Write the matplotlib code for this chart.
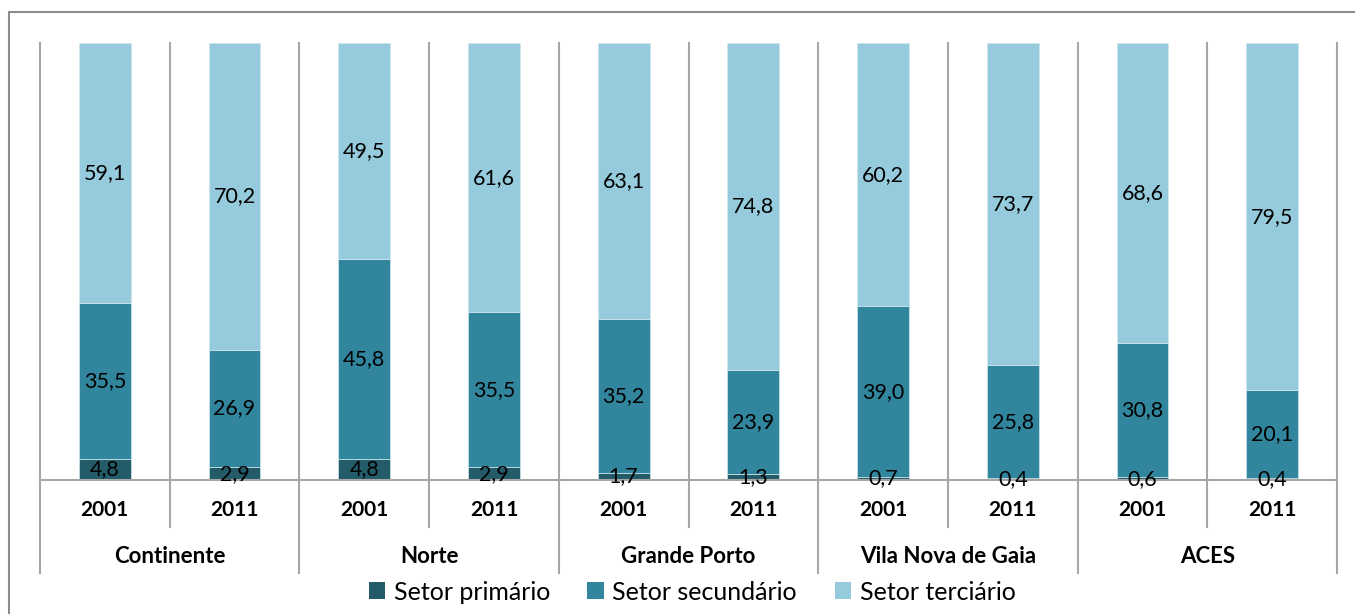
import matplotlib
matplotlib.use("Agg")
import matplotlib.pyplot as plt
from matplotlib.patches import Rectangle, Patch
import numpy as np

groups = ["Continente", "Norte", "Grande Porto", "Vila Nova de Gaia", "ACES"]
years = ["2001", "2011"]
primario = [4.8, 2.9, 4.8, 2.9, 1.7, 1.3, 0.7, 0.4, 0.6, 0.4]
secundario = [35.5, 26.9, 45.8, 35.5, 35.2, 23.9, 39.0, 25.8, 30.8, 20.1]
terciario = [59.1, 70.2, 49.5, 61.6, 63.1, 74.8, 60.2, 73.7, 68.6, 79.5]
series_names = ["Setor primário", "Setor secundário", "Setor terciário"]
colors = ["#235b69", "#31859c", "#95cbdc"]

plt.rcParams['font.family'] = ['Lato', 'DejaVu Sans']

W, H = 1355, 614
fig = plt.figure(figsize=(W / 100, H / 100), dpi=100)
ax = fig.add_axes([40 / W, 1 - 480 / H, (1337 - 40) / W, (480 - 43) / H])

vals = np.array([primario, secundario, terciario])
totals = vals.sum(axis=0)
pct = vals / totals * 100
x = np.arange(len(primario))
bottom = np.zeros(len(x))
for i in range(3):
    ax.bar(x, pct[i], 0.4, bottom=bottom, color=colors[i], edgecolor='#d0e6ee',
           linewidth=0.5, zorder=3)
    for xi, v, b, p in zip(x, vals[i], bottom, pct[i]):
        yc = b + p / 2
        ax.text(xi, yc, f"{v:.1f}".replace(".", ","), ha='center', va='center',
                fontsize=15.5, color='#000000', zorder=5)
    bottom += pct[i]

ax.set_xlim(-0.5, len(x) - 0.5)
ax.set_ylim(0, 100)
ax.set_xticks([])
ax.set_yticks([])
for s in ax.spines.values():
    s.set_visible(False)

grid_c = '#a6a6a6'
ax.axhline(0, color=grid_c, lw=1.5, zorder=4, clip_on=False)
trans = ax.get_xaxis_transform()
for k in range(len(x) + 1):
    xb = k - 0.5
    ax.plot([xb, xb], [0, 1], color=grid_c, lw=1.5, transform=trans, zorder=1, clip_on=False)
    yend = -0.213 if k % 2 == 0 else -0.1076
    ax.plot([xb, xb], [0, yend], color=grid_c, lw=1.5, transform=trans, clip_on=False)

for xi in x:
    ax.text(xi, -0.0686, years[xi % 2], transform=trans, ha='center', va='center',
            fontsize=15, fontweight='bold')
for g, name in enumerate(groups):
    ax.text(2 * g + 0.5, -0.176, name, transform=trans, ha='center', va='center',
            fontsize=16, fontweight='bold')

handles = [Patch(facecolor=c, edgecolor='none') for c in colors]
fig.legend(handles, series_names, loc='center', bbox_to_anchor=(692 / W, 1 - 592 / H),
           ncol=3, frameon=False, fontsize=18, handlelength=0.65, handleheight=0.65,
           handletextpad=0.35, columnspacing=1.5, borderpad=0)

fig.patches.append(Rectangle((9 / W, -0.05), 1.2, 1 - 12 / H + 0.05, transform=fig.transFigure,
                             fill=False, edgecolor='#8c8c8c', lw=1.5))

fig.savefig("out.png", dpi=100)
